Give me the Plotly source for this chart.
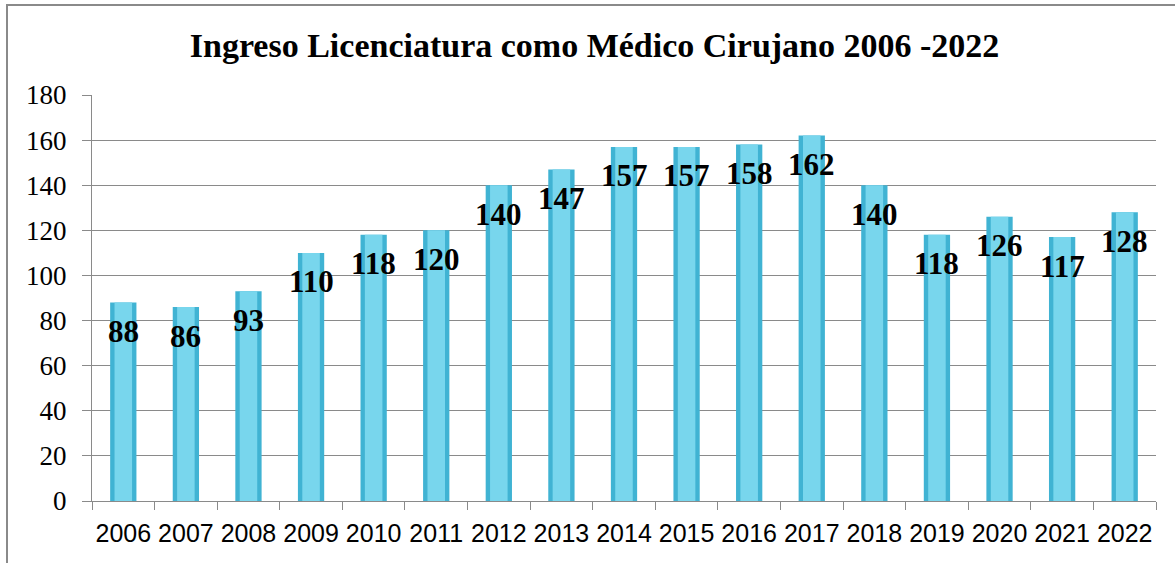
import plotly.graph_objects as go

years = ["2006", "2007", "2008", "2009", "2010", "2011", "2012", "2013", "2014",
         "2015", "2016", "2017", "2018", "2019", "2020", "2021", "2022"]
ingreso = [88, 86, 93, 110, 118, 120, 140, 147, 157, 157, 158, 162, 140, 118, 126, 117, 128]
y_ticks = [0, 20, 40, 60, 80, 100, 120, 140, 160, 180]
title_text = "Ingreso Licenciatura como Médico Cirujano 2006 -2022"

W, H = 1175, 563
L, R, T, B = 92, 19, 95, 62
pw, ph = W - L - R, H - T - B

fig = go.Figure()
fig.add_trace(go.Bar(x=years, y=ingreso, width=0.42,
                     marker=dict(color="#40b3d3", line=dict(width=0)),
                     hoverinfo="x+y"))
fig.add_trace(go.Bar(x=years, y=ingreso, width=0.28,
                     marker=dict(color="#78d6ed", line=dict(width=0)),
                     hoverinfo="skip"))

for i, v in enumerate(ingreso):
    fig.add_annotation(x=i, y=v, text=f"<b>{v}</b>", showarrow=False,
                       yanchor="middle", xanchor="center", yshift=-29,
                       font=dict(family="Liberation Serif", size=31, color="#000000"))

def px_x(p):
    return (p - L) / pw
def px_y(p):
    return (H - B - p) / ph

fig.add_shape(type="rect", xref="paper", yref="paper",
              x0=px_x(7), x1=px_x(1185), y0=px_y(5), y1=px_y(580),
              line=dict(color="#8a8a8a", width=2), fillcolor="rgba(0,0,0,0)", layer="below")

fig.update_layout(
    width=W, height=H,
    margin=dict(l=L, r=R, t=T, b=B, pad=0),
    paper_bgcolor="white", plot_bgcolor="white",
    barmode="overlay", showlegend=False,
    title=dict(text=f"<b>{title_text}</b>", x=0.506, xanchor="center",
               y=1 - 45 / H, yanchor="middle",
               font=dict(family="Liberation Serif", size=34, color="#000000")),
    xaxis=dict(type="category", range=[-0.5, len(years) - 0.5], showgrid=False,
               showline=True, linecolor="#8a8a8a",
               linewidth=1, ticks="outside", tickson="boundaries", ticklen=8,
               tickcolor="#8a8a8a", tickangle=0, ticklabelstandoff=10,
               tickfont=dict(family="Liberation Sans", size=25, color="#000"),
               fixedrange=True),
    yaxis=dict(range=[0, 180], tickvals=y_ticks, showgrid=True, gridcolor="#8a8a8a",
               gridwidth=1, showline=True, linecolor="#8a8a8a", linewidth=1,
               ticks="outside", ticklen=9, tickcolor="#8a8a8a", zeroline=False,
               ticklabelstandoff=10,
               tickfont=dict(family="Liberation Serif", size=27, color="#000"),
               fixedrange=True),
)

fig.write_html("out.html", config={"displayModeBar": False},
               post_script="document.body.style.margin='0';document.body.style.overflow='hidden';")
